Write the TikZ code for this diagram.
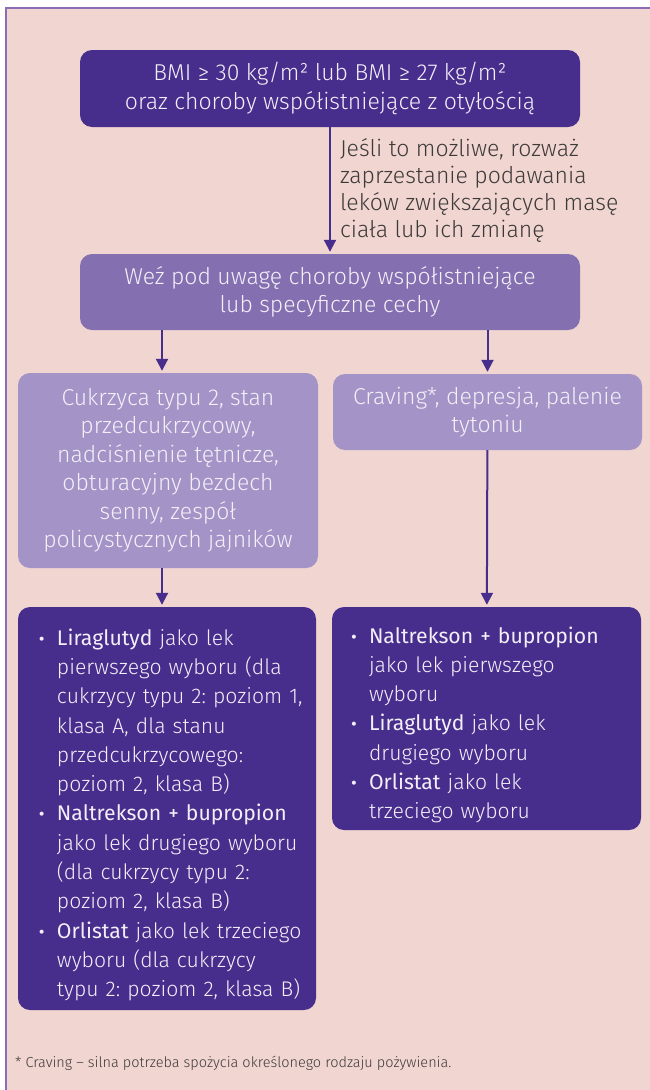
\documentclass[tikz,border=0pt]{standalone}
\usepackage{fontspec}
\setmainfont{Fira Sans Light}[BoldFont={Fira Sans}]
\usetikzlibrary{positioning,arrows.meta}

\definecolor{darkvio}{HTML}{472D8C}
\definecolor{midvio}{HTML}{8470B0}
\definecolor{lightvio}{HTML}{A393C6}
\definecolor{rimvio}{HTML}{8A6DB5}
\definecolor{pinkbg}{HTML}{F0D5D0}
\definecolor{notegray}{HTML}{3E3A3A}
\definecolor{boxtext}{HTML}{F3EFF9}

\frenchspacing
\newlength{\lekskip}
\newcommand{\lekitem}[1]{\par\leftskip=\lekskip\noindent\hangindent=19pt\hangafter=1
  \hyphenpenalty=10000%
  \makebox[19pt][l]{\raisebox{-3pt}{\fontsize{27}{27}\selectfont\textbullet}}#1\par}

\tikzset{
  box/.style={rounded corners=12pt, inner sep=0pt, text=boxtext, align=center,
    font=\fontsize{23}{28.5}\selectfont},
  darkbox/.style={box, fill=darkvio},
  midbox/.style={box, fill=midvio},
  lightbox/.style={box, fill=lightvio},
  listbox/.style={darkbox, align=left, font=\fontsize{21.2}{29.3}\selectfont},
  link/.style={draw=darkvio, line width=2pt, shorten >=2pt,
    -{Triangle[length=12pt,width=12pt]}},
  note/.style={text=notegray, align=left, inner sep=0pt,
    font=\fontsize{23}{27}\selectfont}
}

\begin{document}
\begin{tikzpicture}[x=1pt,y=-1pt]
\useasboundingbox (0,0) rectangle (650,1090);
\fill[pinkbg] (5,7) rectangle (650,1090);
\draw[rimvio, line width=2pt] (6,1090) -- (6,8) -- (650,8);

% boxes
\node (bmi) at (330,88.5) [darkbox, minimum width=500pt, minimum height=77pt]
  {BMI ≥ 30 kg/m² lub BMI ≥ 27 kg/m²\\oraz choroby współistniejące z otyłością};
\node (uwaga) at (330,292) [midbox, minimum width=500pt, minimum height=76pt]
  {Weź pod uwagę choroby współistniejące\\lub specyficzne cechy};
\node (cukrz) at (168,470.5) [lightbox, minimum width=300pt, minimum height=195pt]
  {Cukrzyca typu 2, stan\\przedcukrzycowy,\\nadciśnienie tętnicze,\\obturacyjny bezdech\\senny, zespół\\policystycznych jajników};
\node (crav) at (487.5,412) [lightbox, minimum width=309pt, minimum height=76pt]
  {Craving*, depresja, palenie\\tytoniu};

\node (lekiL) at (167,808.5) [listbox, minimum width=298pt, minimum height=403pt,
  text width=282pt]
  {\setlength{\lekskip}{12pt}%
   \lekitem{\textbf{Liraglutyd} jako lek\newline pierwszego wyboru (dla\newline
    cukrzycy typu 2: poziom 1,\newline klasa A, dla stanu\newline
    przedcukrzycowego:\newline poziom 2, klasa B)}
   \lekitem{\textbf{Naltrekson + bupropion}\newline jako lek drugiego wyboru\newline
    (dla cukrzycy typu 2:\newline poziom 2, klasa B)}
   \lekitem{\textbf{Orlistat} jako lek trzeciego\newline wyboru (dla cukrzycy\newline
    typu 2: poziom 2, klasa B)}};
\node (lekiR) at (486.5,718.5) [listbox, minimum width=309pt, minimum height=223pt,
  text width=293pt]
  {\setlength{\lekskip}{10pt}%
   \lekitem{\textbf{Naltrekson + bupropion}\newline jako lek pierwszego\newline wyboru}
   \lekitem{\textbf{Liraglutyd} jako lek\newline drugiego wyboru}
   \lekitem{\textbf{Orlistat} jako lek\newline trzeciego wyboru}};

% connectors
\draw[link] (bmi) -- node[midway, right=9pt, note] (odstaw)
  {Jeśli to możliwe, rozważ\\zaprzestanie podawania\\leków zwiększających masę\\ciała lub ich zmianę} (uwaga);
\draw[link] ([xshift=-168pt]uwaga.south) -- ([xshift=-6pt]cukrz.north);
\draw[link] (crav.north |- uwaga.south) -- (crav.north);
\draw[link] ([xshift=-6pt]cukrz.south) -- ([xshift=-5pt]lekiL.north);
\draw[link] (crav) -- (lekiR);

\node (przyp) at (15,1063) [anchor=west, inner sep=0pt, text=notegray,
  font=\fontsize{14.5}{17}\selectfont]
  {* Craving – silna potrzeba spożycia określonego rodzaju pożywienia.};
\end{tikzpicture}
\end{document}
